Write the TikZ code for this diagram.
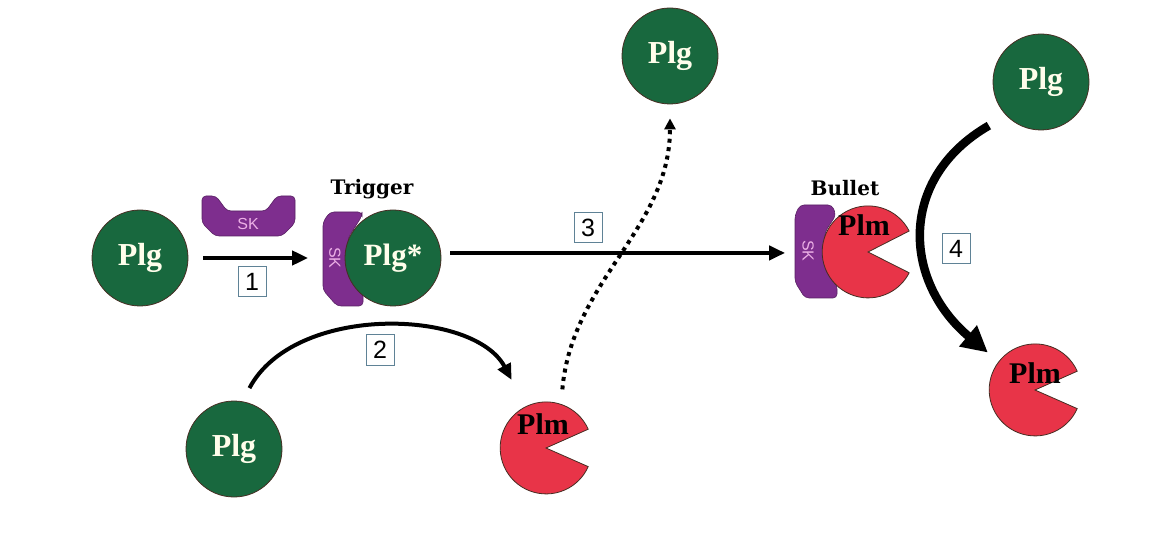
\documentclass[tikz,border=0pt]{standalone}
\usepackage{graphicx}
\usepackage{fontspec}
\setmainfont{Liberation Serif}
\newfontfamily\titlefont{DejaVu Serif}
\newfontfamily\boxfont{Liberation Sans}
\usetikzlibrary{arrows.meta}
\definecolor{plggreen}{RGB}{24,104,62}
\definecolor{plmred}{RGB}{232,52,72}
\definecolor{skpurple}{RGB}{126,46,142}
\definecolor{sktext}{RGB}{236,176,230}
\definecolor{edgebrown}{RGB}{70,45,35}
\definecolor{boxedge}{RGB}{95,130,150}

\begin{document}
\begin{tikzpicture}[x=1pt,y=-1pt,
    plg/.style={circle,minimum size=96pt,inner sep=0pt,fill=plggreen,draw=edgebrown,
      line width=0.8pt,text=white!92!yellow,font=\fontsize{32}{34}\selectfont\bfseries},
    plm/.style={circle,minimum size=92pt,inner sep=0pt},
    plmbody/.style={fill=plmred,draw=edgebrown,line width=0.8pt},
    plmtext/.style={font=\fontsize{30}{32}\selectfont\bfseries},
    skbody/.style={fill=skpurple,draw=skpurple!70!black,line width=0.6pt,rounded corners=4pt},
    sklabel/.style={inner sep=2pt,text=sktext,font=\boxfont\fontsize{16}{17}\selectfont},
    title/.style={font=\titlefont\fontsize{20}{22}\selectfont\bfseries},
    stepno/.style={draw=boxedge,line width=1pt,minimum width=28pt,minimum height=30pt,
      inner sep=0pt,font=\boxfont\fontsize{25}{27}\selectfont},
    arrow/.style={line width=4pt,-{Triangle[length=16pt,width=14pt]}}]
  \useasboundingbox (0,0) rectangle (1164,534);

  % plasminogen
  \node[plg] (plgA) at (140,258) {Plg};
  \node[plg] (plgB) at (234,449) {Plg};
  \node[plg] (plgT) at (670,56) {Plg};
  \node[plg] (plgR) at (1041,82) {Plg};

  % free SK
  \draw[skbody] (202,196) -- (216,196) -- (227,211) -- (266,211) -- (277,196) -- (295,196)
    -- (295,223) -- (282,236) -- (215,236) -- (202,223) -- cycle;
  \node[sklabel] (skF) at (248,224) {SK};

  % trigger complex
  \node[title] (trig) at (372,189) {Trigger};
  \draw[skbody] (330,212) -- (362,212) -- (362,216) -- (348,238) -- (348,273) -- (363,292)
    -- (363,306) -- (337,306) -- (323,290) -- (323,222) -- cycle;
  \node[sklabel] (skT) at (335,258) {\rotatebox{-90}{SK}};
  \node[plg,font=\fontsize{31}{33}\selectfont\bfseries] (plgS) at (393,258) {Plg*};

  % bullet complex
  \node[title] (bull) at (845,188) {Bullet};
  \draw[skbody] (800,205) -- (832,205) -- (836,215) -- (825,232) -- (825,270) -- (837,285)
    -- (837,298) -- (805,298) -- (795,282) -- (795,215) -- cycle;
  \node[sklabel] (skB) at (808,251) {\rotatebox{-90}{SK}};
  \node[plm] (plmB) at (868,252) {};
  \draw[plmbody] (plmB.center) -- (plmB.27) arc[start angle=27,end angle=333,radius=46pt] -- cycle;
  \node[plmtext] (plmBtxt) at (864,225) {Plm};

  % plasmin
  \node[plm] (plmA) at (546,448) {};
  \draw[plmbody] (plmA.center) -- (plmA.24) arc[start angle=24,end angle=336,radius=46pt] -- cycle;
  \node[plmtext] (plmAtxt) at (543,424) {Plm};
  \node[plm] (plmR) at (1035,390) {};
  \draw[plmbody] (plmR.center) -- (plmR.24) arc[start angle=24,end angle=336,radius=46pt] -- cycle;
  \node[plmtext] (plmRtxt) at (1035,373) {Plm};

  % steps
  \node[stepno] (s1) at (252,282) {1};
  \node[stepno] (s2) at (380,350) {2};
  \node[stepno] (s3) at (588,228) {3};
  \node[stepno] (s4) at (956,249) {4};

  \draw[arrow,shorten <=15pt,shorten >=19pt] (plgA.east) -- (plgA.east -| skT.west);
  \draw[arrow,shorten <=15pt,shorten >=30pt] (plgB.80) to[out=62,in=118] (plmA.116);
  \draw[arrow,shorten <=9pt,shorten >=15pt] (plgS.6) -- (plgS.6 -| skB.west);
  \draw[line width=4pt,dash pattern=on 4pt off 4.5pt,shorten <=15pt,shorten >=14pt,
    -{Triangle[length=11pt,width=11pt]}] (plmA.71) to[out=85,in=-90] (plgT.south);
  \draw[line width=8.5pt,shorten <=20pt,shorten >=14pt,-{Triangle[length=26pt,width=26pt]}]
    (plgR.224) to[out=210,in=140,looseness=1.3] (plmR.142);
\end{tikzpicture}
\end{document}
